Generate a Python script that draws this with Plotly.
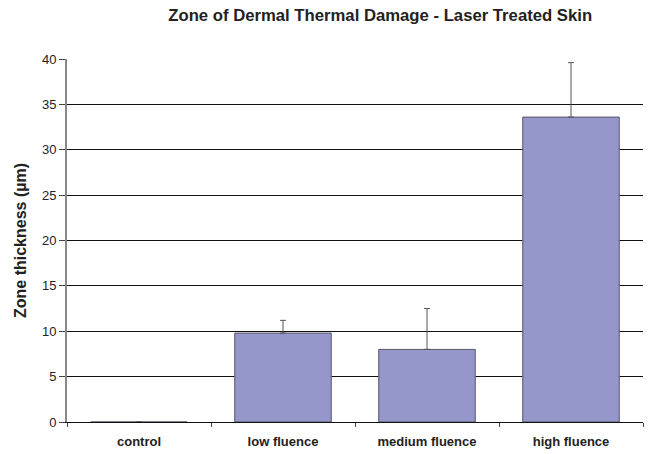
import plotly.graph_objects as go

categories = ["control", "low fluence", "medium fluence", "high fluence"]
values = [0, 9.8, 8.0, 33.6]
errors_up = [0, 1.4, 4.5, 6.0]

fig = go.Figure()
fig.add_trace(go.Bar(
    x=categories, y=values, width=0.67,
    marker=dict(color="#9596C9", line=dict(color="#555566", width=1)),
    error_y=dict(type="data", symmetric=False, array=errors_up,
                 arrayminus=[0, 0, 0, 0], color="#555555", thickness=1, width=3),
))

font_family = "Liberation Sans, Arial, sans-serif"
fig.update_layout(
    width=651, height=454,
    margin=dict(l=67, r=8, t=59, b=32, autoexpand=False),
    paper_bgcolor="white", plot_bgcolor="white",
    showlegend=False,
    font=dict(family=font_family, color="#222222"),
    title=dict(text="<b>Zone of Dermal Thermal Damage - Laser Treated Skin</b>",
               x=0.584, xanchor="center", y=0.967, yanchor="middle",
               font=dict(size=16.7, family=font_family, color="#222222")),
    bargap=0.33,
)
fig.update_yaxes(
    range=[0, 40], dtick=5, showgrid=True, gridcolor="#111111", gridwidth=1,
    showline=True, linecolor="#888888", linewidth=2,
    ticks="outside", ticklen=6, tickcolor="#444444",
    tickfont=dict(size=13, family=font_family, color="#222222"),
    tickformat="d", automargin=False,
    title=dict(text="<b>Zone thickness (µm)</b>", standoff=11,
               font=dict(size=16, family=font_family, color="#222222")),
    zeroline=False,
)
fig.update_xaxes(
    showline=True, linecolor="#111111", linewidth=1,
    ticks="outside", tickson="boundaries", ticklen=4, tickcolor="#444444",
    tickfont=dict(size=13, family=font_family, color="#222222"),
    tickprefix="<b>", ticksuffix="</b>", automargin=False,
    ticklabelstandoff=7,
)
fig.write_html("out.html", config={"displayModeBar": False},
               post_script="document.body.style.margin='0';")
